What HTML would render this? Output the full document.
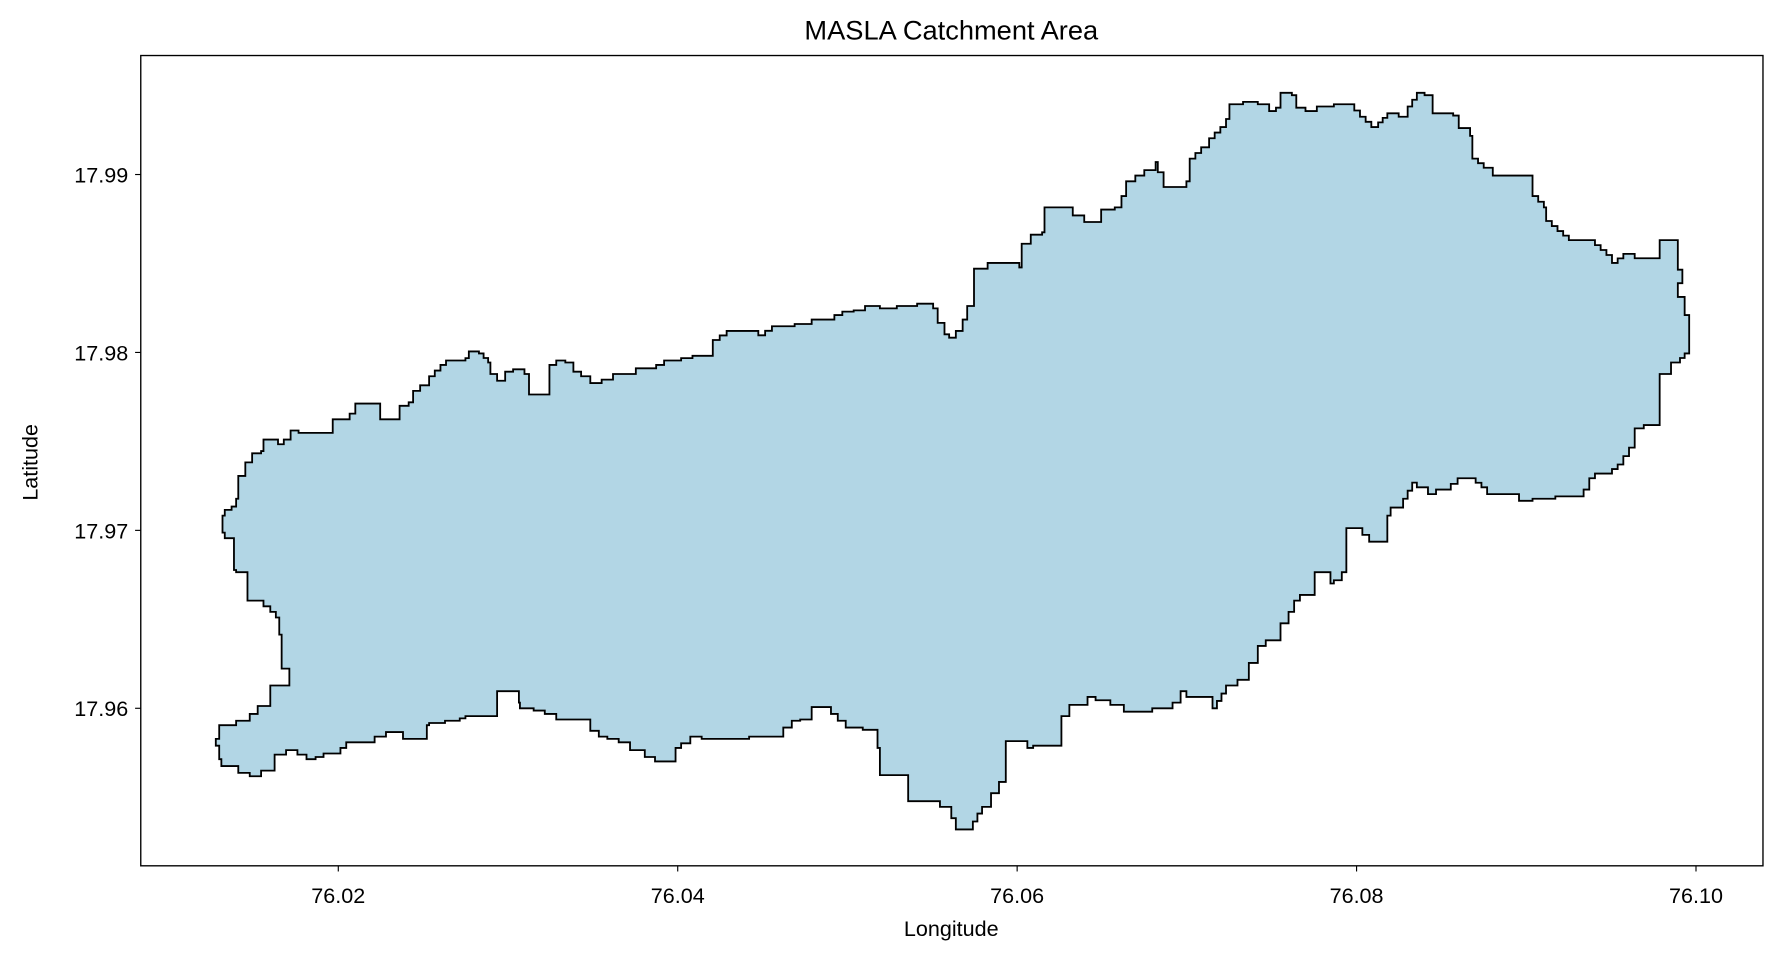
<!DOCTYPE html>
<html><head><meta charset="utf-8"><title>MASLA Catchment Area</title>
<style>html,body{margin:0;padding:0;background:#fff}svg{display:block}text{font-family:"Liberation Sans",sans-serif;fill:#000}</style>
</head><body>
<svg id="chart" width="1780" height="961" viewBox="0 0 1568 848" preserveAspectRatio="none" xmlns="http://www.w3.org/2000/svg">
<text x="838" y="35" font-size="24" text-anchor="middle">MASLA Catchment Area</text>
<rect x="124" y="49" width="1429" height="715" fill="#fff" stroke="#000" stroke-width="1.2"/>
<g id="xticks"></g>
<g id="yticks"></g>
<text x="838" y="826" font-size="19" text-anchor="middle">Longitude</text>
<text transform="translate(33,408) rotate(-90)" font-size="19" text-anchor="middle">Latitude</text>
<path id="poly" fill="#b2d6e5" stroke="#000" stroke-width="1.6" stroke-linejoin="miter"/>
</svg>
<script>
const xTickValues=[76.02,76.04,76.06,76.08,76.10];
const xTickLabels=["76.02","76.04","76.06","76.08","76.10"];
const yTickValues=[17.96,17.97,17.98,17.99];
const yTickLabels=["17.96","17.97","17.98","17.99"];
const lons=[76.01278,76.01278,76.01298,76.01298,76.01398,76.01398,76.01478,76.01478,76.01525,76.01525,76.01599,76.01599,76.01712,76.01712,76.01679,76.01666,76.01652,76.01632,76.01599,76.01559,76.01465,76.01465,76.01398,76.01385,76.01331,76.01318,76.01331,76.01371,76.01398,76.01411,76.01452,76.01492,76.01545,76.01559,76.01599,76.01645,76.01679,76.01719,76.01766,76.0196,76.01967,76.02067,76.021,76.02227,76.02247,76.02348,76.02361,76.02415,76.02441,76.02482,76.02535,76.02602,76.02635,76.02749,76.02769,76.02829,76.02883,76.02896,76.02936,76.02983,76.0303,76.03097,76.03124,76.03237,76.03244,76.03284,76.03338,76.03385,76.03431,76.03485,76.03552,76.03619,76.03739,76.03753,76.03873,76.0392,76.0402,76.04087,76.04187,76.04207,76.04288,76.04421,76.04475,76.04555,76.04689,76.04789,76.04923,76.0497,76.05037,76.05104,76.05191,76.05291,76.05411,76.05505,76.05532,76.05572,76.05599,76.05639,76.05679,76.05706,76.05746,76.05746,76.05826,76.06013,76.06027,76.0608,76.06147,76.06161,76.06294,76.06328,76.06395,76.06495,76.06495,76.06575,76.06615,76.06642,76.06696,76.06749,76.06816,76.06829,76.06863,76.0693,76.06997,76.07017,76.07084,76.07131,76.07197,76.07231,76.07251,76.07331,76.07418,76.07485,76.07525,76.07552,76.07619,76.07645,76.07699,76.07766,76.07866,76.07953,76.0802,76.08087,76.08127,76.08181,76.08248,76.08301,76.08355,76.08401,76.08448,76.08569,76.08602,76.08669,76.08682,76.08749,76.08803,76.09024,76.09037,76.09104,76.09117,76.09184,76.09251,76.09371,76.09472,76.09505,76.09572,76.09639,76.09786,76.09786,76.0988,76.09893,76.0992,76.09893,76.09933,76.0996,76.0996,76.09906,76.09853,76.09786,76.09786,76.09786,76.09692,76.09639,76.09572,76.09505,76.09405,76.09371,76.09338,76.09171,76.09037,76.08957,76.08823,76.08769,76.08702,76.08636,76.08555,76.08468,76.08421,76.08355,76.08301,76.08274,76.08201,76.08181,76.08114,76.08034,76.07953,76.0794,76.07913,76.07866,76.07846,76.07766,76.07753,76.07666,76.07632,76.07599,76.07552,76.07465,76.07418,76.07365,76.07298,76.07231,76.07177,76.07151,76.07064,76.06997,76.06963,76.06916,76.06796,76.06662,76.06629,76.06549,76.06462,76.06415,76.06348,76.06308,76.06261,76.06094,76.0606,76.05947,76.05933,76.05893,76.05846,76.05793,76.05739,76.05672,76.05639,76.05612,76.05545,76.05458,76.05358,76.05358,76.05224,76.05191,76.05177,76.0509,76.0499,76.04943,76.04903,76.04796,76.04789,76.04722,76.04622,76.04622,76.04421,76.04288,76.04141,76.04074,76.0402,76.03987,76.039,76.03866,76.03806,76.03719,76.03652,76.03585,76.03485,76.03485,76.03351,76.03284,76.03217,76.03151,76.0307,76.03064,76.0295,76.02936,76.02749,76.02716,76.02629,76.02535,76.02522,76.02428,76.02381,76.02314,76.02281,76.02214,76.02047,76.02013,76.01913,76.01866,76.01759,76.01625,76.01625,76.01545,76.01478,76.01411,76.01311,76.01298];
const lats=[17.95809,17.95828,17.95828,17.95905,17.95905,17.9593,17.9593,17.95968,17.95968,17.96013,17.96013,17.96128,17.96128,17.96223,17.96223,17.96414,17.9651,17.96542,17.96573,17.96605,17.96618,17.96765,17.96777,17.96956,17.96987,17.97083,17.97115,17.97134,17.97178,17.97306,17.97382,17.97433,17.97446,17.9751,17.9751,17.97484,17.9751,17.97561,17.97548,17.97548,17.97624,17.97656,17.97713,17.97713,17.97624,17.97624,17.977,17.9772,17.97784,17.97815,17.97866,17.9793,17.97955,17.97968,17.98006,17.97994,17.97943,17.97879,17.97841,17.97892,17.97905,17.97879,17.97764,17.97764,17.9793,17.97955,17.97943,17.97892,17.97866,17.97828,17.97847,17.97879,17.97879,17.97911,17.9793,17.97955,17.97968,17.97981,17.97981,17.9807,17.98121,17.98121,17.98096,17.98147,17.9816,17.98185,17.9821,17.98229,17.98236,17.98261,17.98248,17.98261,17.98274,17.98248,17.98166,17.98102,17.98083,17.98121,17.98185,17.98261,17.98312,17.98471,17.98503,17.98478,17.98611,17.98662,17.98675,17.98815,17.98815,17.9877,17.98733,17.98733,17.98803,17.98815,17.98879,17.98962,17.98994,17.99025,17.9907,17.99013,17.9893,17.9893,17.98962,17.99089,17.99153,17.99204,17.99267,17.99312,17.99395,17.99408,17.99395,17.99357,17.99376,17.99459,17.99446,17.99376,17.99357,17.99382,17.99395,17.99395,17.99325,17.99267,17.99293,17.99344,17.99325,17.99382,17.99459,17.99446,17.99344,17.99331,17.99261,17.99217,17.99089,17.99038,17.98994,17.98994,17.98879,17.98815,17.98739,17.98682,17.98631,17.98631,17.98548,17.98503,17.98554,17.98529,17.98541,17.98631,17.98631,17.98465,17.98389,17.98312,17.9821,17.98198,17.97994,17.97943,17.97879,17.97847,17.97675,17.97592,17.97573,17.97465,17.9737,17.97319,17.97293,17.97229,17.97191,17.97178,17.97166,17.97204,17.97204,17.97242,17.97293,17.97293,17.97229,17.97204,17.97242,17.97268,17.97178,17.97128,17.97083,17.96936,17.96936,17.97013,17.97013,17.96765,17.9672,17.96701,17.96765,17.96765,17.96637,17.96605,17.96542,17.96478,17.96382,17.9635,17.96255,17.9616,17.96128,17.96083,17.96,17.96064,17.96064,17.96096,17.96032,17.96,17.95981,17.95981,17.96019,17.96045,17.96064,17.96019,17.96019,17.95956,17.9579,17.95777,17.95815,17.95815,17.95586,17.95523,17.95446,17.95408,17.95319,17.95319,17.95382,17.95446,17.95478,17.95478,17.9551,17.95624,17.95624,17.95777,17.95879,17.95892,17.9593,17.95968,17.96007,17.96007,17.95937,17.9593,17.95854,17.95841,17.95828,17.95828,17.95841,17.95803,17.95777,17.95701,17.95701,17.95726,17.95765,17.95809,17.95828,17.95841,17.95905,17.95937,17.95937,17.95968,17.95987,17.96,17.96032,17.96096,17.96096,17.95956,17.95943,17.9593,17.95917,17.95905,17.95828,17.95828,17.95866,17.95866,17.95841,17.95809,17.95777,17.95746,17.95726,17.95714,17.95765,17.95714,17.9565,17.95618,17.95637,17.95675,17.95714,17.9579];

const X=v=>298+(v-76.02)*14950;
const Y=v=>154-(v-17.99)*15700;
const NS='http://www.w3.org/2000/svg';
const xg=document.getElementById('xticks'), yg=document.getElementById('yticks');
xTickValues.forEach((v,i)=>{
  const x=X(v);
  const l=document.createElementNS(NS,'line');
  l.setAttribute('x1',x);l.setAttribute('x2',x);l.setAttribute('y1',764);l.setAttribute('y2',769);
  l.setAttribute('stroke','#000');l.setAttribute('stroke-width','1');
  
  
  xg.appendChild(l);
  const t=document.createElementNS(NS,'text');
  t.setAttribute('x',x);t.setAttribute('y',797);t.setAttribute('font-size','19');t.setAttribute('text-anchor','middle');
  t.textContent=xTickLabels[i];
  
  
  xg.appendChild(t);
});
yTickValues.forEach((v,i)=>{
  const y=Y(v);
  const l=document.createElementNS(NS,'line');
  l.setAttribute('x1',119);l.setAttribute('x2',124);l.setAttribute('y1',y);l.setAttribute('y2',y);
  l.setAttribute('stroke','#000');l.setAttribute('stroke-width','1');
  
  
  yg.appendChild(l);
  const t=document.createElementNS(NS,'text');
  t.setAttribute('x',113);t.setAttribute('y',y+7);t.setAttribute('font-size','19');t.setAttribute('text-anchor','end');
  t.textContent=yTickLabels[i];
  
  
  yg.appendChild(t);
});
let d='';
const n=lons.length;
for(let i=0;i<n;i++){
  const x0=X(lons[i]), y0=Y(lats[i]);
  if(i===0){d+='M'+x0.toFixed(1)+','+y0.toFixed(1);}
  const j=(i+1)%n;
  const x1=X(lons[j]), y1=Y(lats[j]);
  const dx=x1-x0, dy=y1-y0;
  const steps=Math.max(1,Math.floor(Math.min(Math.abs(dx),Math.abs(dy))/4));
  for(let s=1;s<=steps;s++){
    const xs=x0+dx*s/steps, ys=y0+dy*s/steps;
    d+='H'+xs.toFixed(1)+'V'+ys.toFixed(1);
  }
}
d+='Z';
document.getElementById('poly').setAttribute('d',d);
</script>
</body></html>
